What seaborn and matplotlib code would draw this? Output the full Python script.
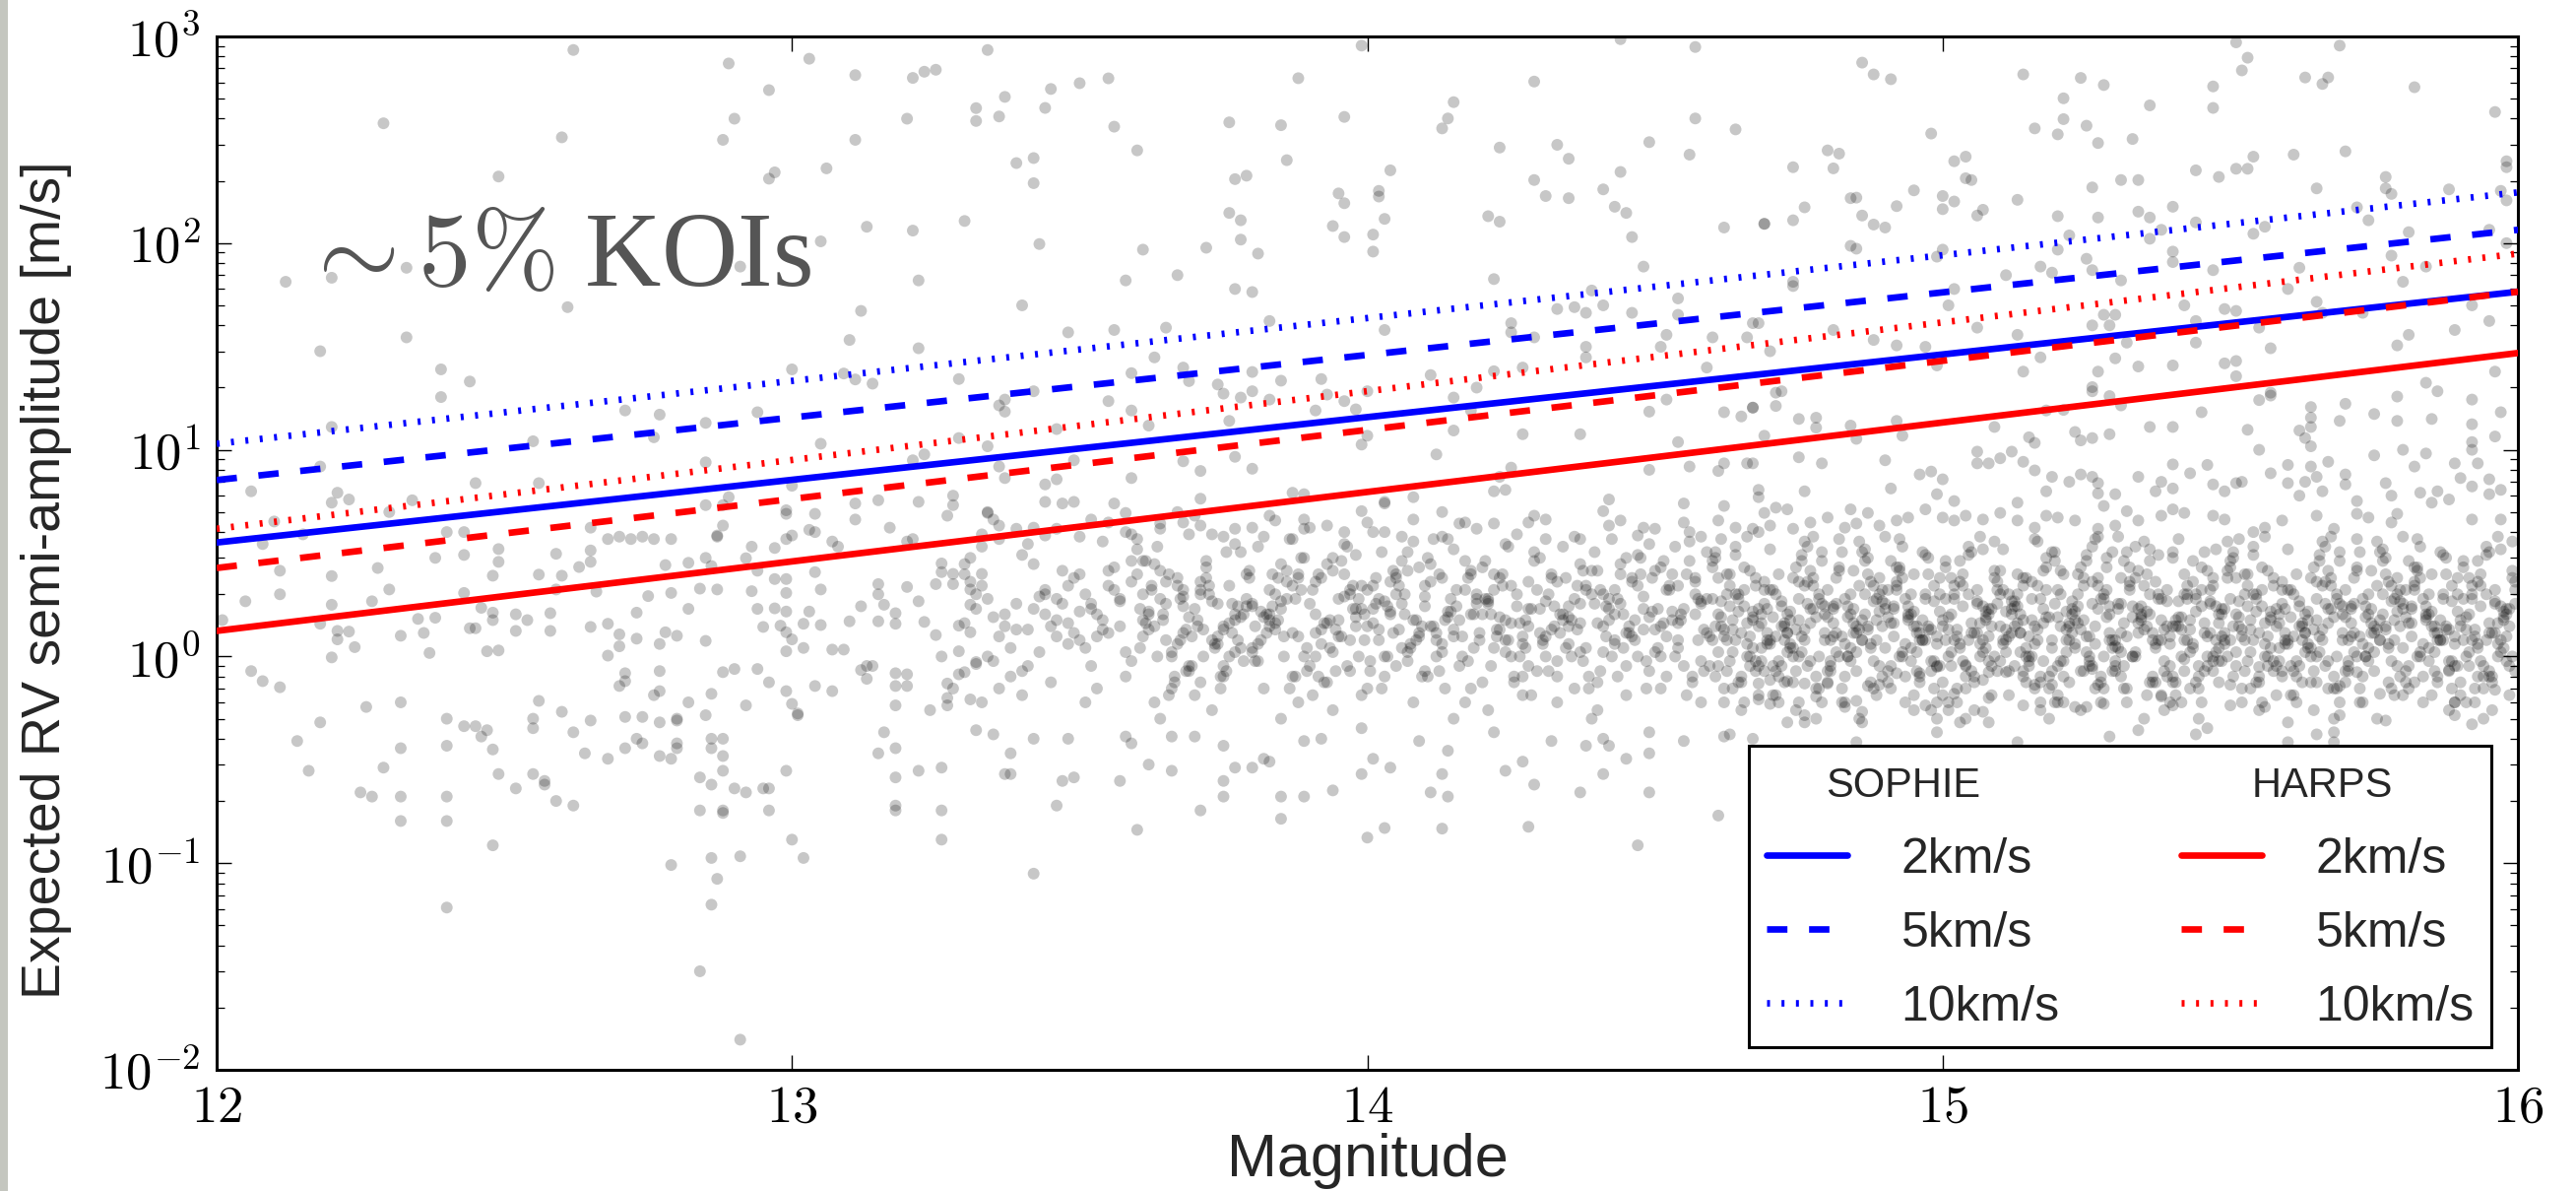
import numpy as np
import pandas as pd
import matplotlib
matplotlib.use("Agg")
import matplotlib.pyplot as plt
import seaborn as sns
from matplotlib.lines import Line2D
from matplotlib.patches import Rectangle
from matplotlib.ticker import FixedLocator, LogLocator, FuncFormatter, NullFormatter

# ===================== data =====================
line_mag = [12, 16]
sophie_2 = [3.56, 58.2]
sophie_5 = [7.14, 116]
sophie_10 = [10.7, 176]
harps_2 = [1.33, 29.4]
harps_5 = [2.68, 58.2]
harps_10 = [4.15, 89]

# bright stars, mag < 13.35 (mag, K m/s)
koi_bright = [
    (12.62, 860), (12.89, 740), (13.03, 780), (13.11, 650), (13.21, 630), (13.23, 675), (13.25, 690),
    (13.34, 860), (12.96, 550), (13.37, 510), (13.32, 450), (13.32, 390), (13.36, 410), (13.20, 400),
    (12.90, 400), (12.29, 380), (12.60, 325), (12.88, 316), (13.11, 316), (12.49, 210), (12.97, 220),
    (12.96, 205), (13.06, 230), (13.13, 120), (13.21, 115), (13.30, 128), (13.05, 102), (12.91, 77),
    (12.33, 76), (12.20, 68), (12.12, 65), (13.22, 66), (12.61, 49), (13.12, 47), (12.33, 35),
    (12.18, 30), (13.10, 34), (13.22, 31), (12.39, 24.5), (12.44, 21.4), (12.39, 18), (13.00, 24.5),
    (13.09, 23.4), (13.11, 21.9), (13.14, 20.9), (13.29, 22), (12.71, 15.5), (12.77, 14.8),
    (12.94, 15.2), (12.85, 13.5), (12.20, 12.9), (12.55, 11), (12.76, 11.5), (13.05, 10.7),
    (13.29, 11.4), (13.23, 9.5), (13.21, 8.9), (12.18, 8.3), (12.85, 8.7), (12.06, 6.3), (12.21, 6.2),
    (12.23, 5.75), (12.20, 5.55), (12.45, 6.9), (12.56, 6.9), (13.00, 6.7), (12.34, 5.7), (12.89, 5.9),
    (13.11, 5.5), (13.15, 5.7), (13.22, 5.6), (13.28, 6.0), (13.28, 5.4), (12.85, 5.4), (12.88, 5.4),
    (12.99, 5.1), (13.04, 4.9), (12.99, 4.9), (12.30, 5.0), (12.10, 4.5), (13.11, 4.6), (13.27, 4.8),
    (13.34, 5.0), (13.17, 4.2), (13.03, 4.1), (12.88, 4.3), (12.65, 4.2), (12.68, 3.7), (12.72, 3.7),
    (12.76, 3.7), (12.87, 3.8), (12.99, 3.7), (12.40, 4.0), (12.43, 4.0), (12.15, 3.9), (12.08, 3.5),
    (13.33, 3.9), (13.36, 3.7), (13.20, 3.6),
    (12.70, 3.8), (12.74, 3.8), (12.79, 3.7), (12.87, 3.85), (12.93, 3.4), (12.97, 3.35), (13.00, 3.85),
    (13.04, 4.0), (13.07, 3.6), (13.08, 3.4), (13.21, 3.7),
    (12.01, 1.50), (12.05, 1.85), (12.11, 2.0), (12.11, 2.6), (12.20, 2.45), (12.20, 1.78), (12.21, 1.33),
    (12.21, 1.21), (12.23, 1.32), (12.24, 1.11), (12.20, 0.99), (12.18, 1.44), (12.27, 1.85), (12.28, 2.68),
    (12.30, 2.11), (12.32, 1.26), (12.36, 1.30), (12.35, 1.52), (12.38, 1.54), (12.37, 1.04), (12.38, 3.0),
    (12.43, 3.1), (12.43, 2.03), (12.46, 1.72), (12.44, 1.37), (12.45, 1.37), (12.47, 1.06), (12.48, 2.46),
    (12.49, 2.87), (12.49, 3.31), (12.48, 1.50), (12.48, 1.63), (12.49, 1.07), (12.52, 1.60), (12.52, 1.33),
    (12.54, 1.50), (12.56, 2.49), (12.58, 1.62), (12.58, 1.33), (12.59, 2.11), (12.59, 3.14), (12.60, 2.46),
    (12.63, 2.71), (12.65, 2.87), (12.65, 3.26), (12.65, 1.39), (12.66, 2.06), (12.68, 1.44), (12.70, 1.28),
    (12.70, 1.12), (12.73, 1.22), (12.73, 1.63), (12.75, 1.96), (12.78, 2.77), (12.79, 2.03), (12.78, 1.31),
    (12.77, 1.15), (12.80, 1.26), (12.82, 1.70), (12.82, 2.84), (12.84, 2.13), (12.85, 3.0), (12.85, 1.19),
    (12.87, 2.11), (12.86, 2.74), (12.92, 2.99), (12.94, 2.6), (12.93, 2.07), (12.94, 1.70), (12.95, 1.39),
    (12.97, 2.37), (12.97, 1.71), (12.99, 2.37), (12.99, 2.03), (12.99, 1.65), (12.98, 1.41), (12.99, 1.31),
    (12.99, 1.06), (13.00, 1.21), (13.02, 1.10), (13.02, 1.44), (13.03, 1.65), (13.04, 2.56), (13.05, 2.11),
    (13.05, 1.42), (13.07, 1.08), (13.09, 1.08), (13.10, 1.48), (13.12, 1.75), (13.15, 2.0), (13.15, 2.24),
    (13.15, 1.48), (13.16, 1.78), (13.18, 1.62), (13.18, 1.44), (13.20, 2.17), (13.22, 1.85), (13.23, 1.47),
    (13.25, 2.24), (13.25, 1.27), (13.26, 2.56), (13.26, 2.82), (13.28, 2.51), (13.28, 2.24), (13.29, 1.06),
    (13.29, 1.41), (13.31, 1.78), (13.31, 2.11), (13.31, 1.31), (13.32, 0.94), (13.33, 2.51),
    (12.06, 0.85), (12.08, 0.76), (12.11, 0.71), (12.18, 0.48), (12.14, 0.39), (12.16, 0.28), (12.26, 0.57),
    (12.32, 0.60), (12.32, 0.36), (12.29, 0.29), (12.25, 0.22), (12.27, 0.21), (12.32, 0.21), (12.32, 0.16),
    (12.40, 0.50), (12.40, 0.37), (12.40, 0.21), (12.40, 0.16), (12.43, 0.46), (12.45, 0.46), (12.47, 0.44),
    (12.46, 0.41), (12.48, 0.355), (12.49, 0.27), (12.52, 0.23), (12.55, 0.50), (12.55, 0.45), (12.56, 0.61),
    (12.55, 0.27), (12.57, 0.25), (12.57, 0.24), (12.59, 0.20), (12.62, 0.19), (12.60, 0.54), (12.62, 0.43),
    (12.64, 0.34), (12.65, 0.49), (12.68, 0.32), (12.68, 1.01), (12.70, 0.72), (12.71, 0.83), (12.71, 0.76),
    (12.71, 0.51), (12.71, 0.36), (12.73, 0.40), (12.74, 0.51), (12.74, 0.38), (12.77, 0.33), (12.77, 0.85),
    (12.76, 0.65), (12.77, 0.68), (12.77, 0.48), (12.79, 0.32), (12.80, 0.50), (12.80, 0.49), (12.80, 0.38),
    (12.80, 0.36), (12.82, 0.60), (12.84, 0.26), (12.85, 0.52), (12.86, 0.40), (12.86, 0.24), (12.86, 0.36),
    (12.88, 0.33), (12.88, 0.28), (12.88, 0.40), (12.86, 0.66), (12.88, 0.84), (12.90, 0.87), (12.92, 0.58),
    (12.94, 0.87), (12.96, 0.75), (12.99, 0.68), (13.00, 0.59), (13.01, 0.53), (13.01, 0.52), (13.04, 0.72),
    (13.07, 0.68), (13.12, 0.86), (13.13, 0.90), (13.13, 0.78), (13.14, 0.90), (13.16, 0.43), (13.15, 0.34),
    (13.18, 0.36), (13.18, 0.26), (13.18, 0.72), (13.18, 0.83), (13.18, 0.58), (13.20, 0.82), (13.20, 0.72),
    (13.22, 0.28), (13.24, 0.55), (13.26, 0.29), (13.26, 1.0), (13.27, 0.74), (13.27, 0.63), (13.27, 0.58),
    (13.28, 0.70), (13.29, 0.82), (13.30, 0.84), (13.31, 0.62), (13.33, 0.60), (13.32, 0.44), (13.32, 0.92),
    (12.95, 0.23), (12.90, 0.23), (12.92, 0.22), (12.96, 0.23), (12.96, 0.18), (12.99, 0.28), (12.84, 0.18),
    (12.88, 0.18), (12.88, 0.175), (13.18, 0.19), (13.18, 0.18), (13.26, 0.18), (13.26, 0.13), (13.00, 0.13),
    (13.02, 0.106), (12.91, 0.108), (12.86, 0.106), (12.79, 0.098), (12.48, 0.122), (12.87, 0.084),
    (12.86, 0.063), (12.40, 0.061), (12.84, 0.030), (12.91, 0.014),
]

# faint stars, large amplitudes (mag, K m/s)
koi_high = [
    (13.45, 557), (13.44, 451), (13.50, 594), (13.55, 627), (13.56, 366), (13.60, 281), (13.39, 244),
    (13.42, 258), (13.42, 195), (13.43, 99), (13.40, 50), (13.48, 37), (13.56, 38), (13.58, 66), (13.61, 93),
    (13.63, 28), (13.65, 39), (13.67, 70), (13.68, 25), (13.69, 21.5), (13.72, 95), (13.76, 384), (13.77, 204),
    (13.79, 212), (13.76, 140), (13.78, 129), (13.78, 104), (13.81, 89), (13.77, 60), (13.80, 58), (13.83, 42),
    (13.85, 372), (13.86, 252), (13.88, 628), (13.94, 121), (13.95, 174), (13.96, 156), (13.96, 107),
    (13.96, 408), (13.99, 903), (14.01, 110), (14.01, 91), (14.02, 168), (14.02, 179), (14.03, 131),
    (14.04, 225), (14.03, 38), (14.13, 359), (14.14, 401), (14.15, 481), (14.21, 135), (14.23, 127),
    (14.22, 67), (14.23, 290), (14.29, 605), (14.29, 202), (14.31, 169), (14.33, 299), (14.35, 256),
    (14.35, 165), (14.41, 182), (14.43, 150), (14.45, 140), (14.44, 221), (14.46, 107), (14.48, 77),
    (14.49, 308), (14.56, 268), (14.57, 401), (14.57, 889), (14.44, 970), (14.64, 355), (14.62, 119),
    (14.69, 124), (14.54, 54), (14.54, 45), (14.46, 46), (14.41, 50), (14.38, 46), (14.36, 49), (14.33, 48),
    (14.39, 59), (14.25, 41), (14.25, 37), (14.29, 35), (14.52, 36), (14.60, 35), (14.66, 35), (14.67, 41),
    (14.38, 31.5), (14.38, 28), (14.51, 31.5), (14.27, 25), (14.22, 24), (14.11, 23), (14.19, 20),
    (14.18, 15.5), (14.27, 11.9), (14.37, 11.9), (14.15, 12.4), (14.12, 9.5), (13.92, 22), (13.85, 21.6),
    (13.80, 23.8), (13.80, 19.2), (13.83, 17.5), (13.78, 17.9), (13.75, 18.7), (13.74, 20.7), (13.76, 13.8),
    (13.77, 9.25), (13.80, 8.1), (13.71, 7.9), (13.68, 8.8), (13.59, 7.3), (13.59, 15.5), (13.55, 17.2),
    (13.59, 23.5), (13.62, 13.1), (13.46, 12.6), (13.49, 8.9), (13.42, 19.2), (13.37, 17.5), (13.37, 15.3),
    (13.36, 16.4), (13.44, 6.8), (13.46, 7.2), (13.44, 5.6), (13.47, 5.5), (13.49, 5.6), (13.34, 10.4),
    (13.36, 8.3), (13.37, 7.3), (14.00, 11.7), (13.99, 10.6), (13.98, 15.7), (13.96, 17.2), (13.93, 18.5),
    (13.91, 15.5), (14.00, 19.2), (14.15, 17.9), (14.49, 15.3), (14.62, 15.2), (14.65, 14.5), (14.67, 16),
    (14.69, 11.7), (14.52, 17.5), (14.59, 25), (14.66, 8.6), (14.62, 8.6), (14.56, 8.3), (14.61, 7.9),
    (14.49, 8.0), (14.54, 10.9), (14.25, 8.2), (14.23, 7.4), (14.24, 6.4), (14.22, 6.3), (14.08, 5.9),
    (14.03, 5.6), (13.71, 5.8), (13.87, 6.2), (13.89, 6.1),
    (14.86, 747), (14.88, 655), (14.91, 621), (15.14, 655), (15.24, 630), (15.28, 582), (15.21, 502),
    (15.21, 398), (15.16, 359), (15.20, 336), (15.25, 370), (15.27, 305), (15.33, 319), (15.36, 464),
    (15.47, 573), (15.47, 451), (15.51, 936), (15.53, 789), (15.52, 685), (15.63, 633), (15.67, 633),
    (15.66, 589), (15.82, 568), (15.96, 431), (15.69, 903), (14.98, 339), (14.80, 281), (14.82, 271),
    (14.74, 233), (14.81, 230), (15.02, 249), (15.04, 262), (15.04, 206), (15.05, 202), (14.95, 180),
    (15.00, 169), (15.02, 159), (14.84, 165), (14.85, 166), (14.92, 151), (14.76, 149), (14.86, 136),
    (14.69, 124), (14.74, 129), (14.88, 123), (14.90, 119), (15.00, 146), (15.06, 136), (15.07, 145),
    (15.13, 162), (15.20, 135), (15.26, 186), (15.31, 202), (15.34, 202), (15.27, 133), (15.34, 142),
    (15.36, 133), (15.40, 150), (15.44, 225), (15.48, 209), (15.51, 229), (15.53, 229), (15.54, 262),
    (15.61, 268), (15.70, 278), (15.65, 184), (15.77, 209), (15.77, 184), (15.78, 173), (15.88, 182),
    (15.98, 233), (15.98, 249), (15.74, 129), (15.72, 149), (15.81, 113), (15.95, 116), (15.98, 161),
    (15.54, 111), (15.56, 120), (15.44, 126), (15.38, 116), (15.36, 105), (15.22, 109), (15.20, 93),
    (15.25, 84), (15.26, 74), (15.17, 77), (15.19, 72), (15.11, 70), (15.00, 93), (14.99, 86), (14.84, 97),
    (14.85, 94), (14.74, 65), (14.74, 62), (15.31, 66), (15.40, 91), (15.40, 81), (15.47, 74), (15.62, 76),
    (15.78, 87), (15.80, 65), (15.84, 77), (15.98, 100), (15.97, 179), (15.02, 60), (15.01, 50), (14.81, 38),
    (14.88, 34), (14.92, 32), (14.97, 31.5), (15.06, 39), (15.13, 36), (15.17, 28), (15.26, 40), (15.29, 40),
    (15.28, 45), (15.30, 45), (15.32, 33), (15.42, 50), (15.44, 42), (15.44, 33), (15.55, 39), (15.60, 60),
    (15.65, 52), (15.66, 46), (15.73, 46), (15.81, 36), (15.79, 32), (15.89, 38), (15.95, 42), (15.92, 50),
    (15.57, 31), (15.49, 48), (15.51, 47), (14.68, 41), (14.70, 30), (14.71, 18.9), (14.72, 19.2),
    (14.71, 16.3), (14.67, 16), (14.75, 14.1), (14.78, 14.3), (14.78, 12.8), (14.85, 11.3), (14.84, 13.1),
    (14.92, 13.8), (14.93, 11.7), (14.99, 25.6), (15.14, 23.9), (15.30, 27.7), (15.34, 25.3), (15.40, 25.6),
    (15.49, 26.2), (15.51, 26.9), (15.51, 22.7), (15.27, 23.9), (15.26, 20.1), (15.26, 19.2), (15.29, 18.2),
    (15.31, 16.4), (15.18, 15.5), (15.21, 15.6), (15.09, 12.9), (15.15, 11.5), (15.16, 10.8), (15.23, 12.2),
    (15.24, 11.1), (15.26, 11.4), (15.29, 11.9), (15.36, 12.9), (15.40, 12.9), (15.45, 15.2), (15.53, 12.5),
    (15.55, 17.4), (15.57, 18.9), (15.57, 18.3), (15.64, 16.1), (15.64, 14.3), (15.70, 16.7), (15.69, 13.8),
    (15.62, 12.4), (15.64, 12.9), (15.63, 11.4), (15.64, 10.4), (15.75, 14.9), (15.79, 13.8), (15.85, 14.1),
    (15.79, 18.1), (15.84, 21.1), (15.86, 19.2), (15.92, 17.5), (15.97, 15.2), (15.96, 23.9), (15.92, 13.3),
    (15.96, 11.6), (15.92, 10.9),
]

# upper edge of the dense cloud, 4-10 m/s (mag, K m/s)
koi_edge = [
    (14.67, 8.6), (14.68, 6.4), (14.71, 5.25), (14.73, 5.15), (14.76, 6.3), (14.79, 8.6), (14.75, 9.2),
    (14.84, 5.15), (14.87, 4.95), (14.90, 8.9), (14.91, 6.5), (14.96, 7.6), (14.98, 7.85), (15.00, 7.2),
    (14.99, 6.1), (15.02, 5.65), (15.06, 9.8), (15.06, 8.6), (15.08, 8.6), (15.10, 9.1), (15.12, 9.8),
    (15.14, 8.75), (15.16, 7.95), (15.13, 5.55), (15.18, 6.3), (15.19, 7.4), (15.22, 7.0), (15.24, 7.6),
    (15.26, 7.4), (15.27, 6.15), (15.27, 6.9), (15.28, 5.35), (15.30, 6.1), (15.34, 7.4), (15.37, 6.3),
    (15.38, 7.0), (15.40, 8.5), (15.40, 6.5), (15.43, 7.7), (15.46, 8.45), (15.47, 6.8), (15.49, 6.3),
    (15.51, 6.9), (15.52, 7.0), (15.55, 10.0), (15.57, 7.7), (15.60, 8.45), (15.60, 6.9), (15.62, 6.0),
    (15.63, 7.0), (15.64, 8.3), (15.65, 7.4), (15.66, 6.3), (15.67, 8.75), (15.70, 7.6), (15.70, 6.8),
    (15.72, 5.65), (15.75, 9.4), (15.77, 6.9), (15.78, 6.0), (15.80, 10.0), (15.82, 8.3), (15.84, 9.6),
    (15.83, 6.2), (15.85, 5.55), (15.86, 6.3), (15.89, 8.6), (15.90, 7.3), (15.92, 6.65), (15.92, 10.0),
    (15.93, 8.6), (15.95, 7.2), (15.95, 6.1), (15.97, 6.4), (15.97, 4.6), (15.92, 4.6), (15.88, 5.75),
    (15.79, 4.9), (15.78, 4.45), (15.74, 4.7), (15.72, 4.9), (15.68, 4.15), (15.65, 4.8), (15.59, 4.55),
    (15.56, 4.2), (15.54, 4.0), (15.49, 4.6), (15.47, 4.8), (15.42, 4.95), (15.40, 5.15), (15.38, 4.8),
    (15.34, 4.55), (15.32, 5.05), (15.30, 4.3), (15.27, 4.15), (15.23, 4.55), (15.20, 4.7), (15.18, 4.8),
    (15.16, 4.2), (15.13, 4.55), (15.10, 4.95), (15.07, 4.6), (15.04, 4.8), (15.02, 4.55), (15.00, 4.7),
    (14.97, 5.15), (14.94, 4.7), (14.92, 4.55), (14.89, 4.3), (14.85, 4.4), (14.83, 4.2), (14.80, 4.7),
    (14.77, 4.45), (14.74, 4.15), (14.70, 4.3), (14.68, 4.0),
    (13.34, 4.95), (13.36, 4.3), (13.39, 4.15), (13.44, 3.85), (13.46, 4.15), (13.50, 3.8), (13.52, 4.6),
    (13.55, 4.45), (13.58, 4.95), (13.59, 3.9), (13.64, 4.15), (13.68, 4.45), (13.69, 3.9), (13.71, 4.3),
    (13.75, 3.8), (13.77, 4.15), (13.80, 4.2), (13.83, 4.8), (13.84, 4.55), (13.87, 3.7), (13.89, 4.15),
    (13.93, 4.3), (13.96, 4.0), (13.99, 5.05), (14.00, 4.45), (14.03, 4.0), (14.06, 3.8), (14.08, 4.6),
    (14.13, 3.8), (14.17, 4.45), (14.19, 4.15), (14.22, 4.4), (14.28, 4.45), (14.31, 3.7), (14.37, 3.7),
    (14.41, 5.05), (14.42, 5.75), (14.42, 4.3), (14.44, 4.55), (14.47, 3.85), (14.50, 4.15), (14.55, 4.45),
    (14.58, 3.8), (14.61, 4.55), (14.62, 5.35), (14.64, 4.2), (14.67, 4.15), (14.68, 5.9), (14.69, 4.95),
]

# lower tail of the cloud, below ~0.9 m/s (mag, K m/s)
koi_low = [
    (13.37, 0.27), (13.38, 0.27), (13.38, 0.34), (13.46, 0.19), (13.47, 0.25), (13.49, 0.26), (13.57, 0.25),
    (13.60, 0.145), (13.62, 0.30), (13.66, 0.28), (13.71, 0.18), (13.75, 0.21), (13.75, 0.25), (13.77, 0.29),
    (13.80, 0.29), (13.82, 0.32), (13.83, 0.31), (13.85, 0.21), (13.85, 0.164), (13.89, 0.21), (13.94, 0.225),
    (13.99, 0.27), (14.00, 0.133), (14.01, 0.32), (14.03, 0.148), (14.04, 0.29), (14.11, 0.22), (14.13, 0.27),
    (14.13, 0.147), (14.14, 0.21), (14.14, 0.35), (14.24, 0.28), (14.27, 0.31), (14.28, 0.15), (14.29, 0.24),
    (14.37, 0.22), (14.41, 0.27), (14.45, 0.32), (14.47, 0.122), (14.49, 0.22), (14.49, 0.34), (14.61, 0.17),
    (13.42, 0.089), (14.38, 0.37), (14.55, 0.39), (14.42, 0.37), (14.62, 0.41), (14.63, 0.42), (14.67, 0.40),
    (13.35, 0.42), (13.42, 0.40), (13.48, 0.40), (13.58, 0.41), (13.59, 0.38), (13.66, 0.41), (13.70, 0.41),
    (13.75, 0.37), (13.89, 0.39), (13.92, 0.40), (13.99, 0.45), (14.09, 0.39), (14.22, 0.43), (14.32, 0.39),
    (14.41, 0.40), (14.49, 0.43),
    (14.68, 0.62), (14.70, 0.59), (14.73, 0.48), (14.76, 0.48), (14.76, 0.52), (14.75, 0.60), (14.78, 0.64),
    (14.83, 0.57), (14.85, 0.61), (14.86, 0.54), (14.86, 0.48), (14.85, 0.385), (14.87, 0.72), (14.89, 0.73),
    (14.95, 0.55), (14.97, 0.58), (14.99, 0.50), (14.99, 0.43), (15.01, 0.55), (15.02, 0.66), (15.03, 0.48),
    (15.07, 0.54), (15.08, 0.48), (15.08, 0.63), (15.14, 0.58), (15.17, 0.55), (15.20, 0.60), (15.23, 0.57),
    (15.25, 0.57), (15.28, 0.59), (15.29, 0.41), (15.34, 0.44), (15.38, 0.64), (15.40, 0.58), (15.44, 0.42),
    (15.46, 0.45), (15.50, 0.58), (15.56, 0.57), (15.60, 0.48), (15.60, 0.385), (15.65, 0.42), (15.68, 0.385),
    (15.68, 0.43), (15.69, 0.52), (15.76, 0.66), (15.77, 0.49), (15.80, 0.65), (15.89, 0.60), (15.89, 0.52),
    (15.92, 0.47), (15.96, 0.69), (15.13, 0.385), (15.95, 0.80), (15.93, 0.80), (15.88, 0.86), (15.82, 0.75),
    (15.72, 0.84), (15.69, 0.72), (15.67, 0.70), (15.65, 0.75), (15.59, 0.80), (15.55, 0.89), (15.50, 0.73),
    (15.48, 0.75), (15.47, 1.0), (15.42, 0.97), (15.40, 0.75), (15.36, 0.75), (15.31, 0.80), (15.30, 1.12),
    (15.27, 0.73), (15.26, 0.87), (15.19, 0.73), (15.16, 0.73), (15.14, 0.80), (15.11, 0.84), (15.08, 0.84),
    (15.07, 0.77), (15.04, 0.91), (14.99, 0.89), (14.96, 0.83), (14.92, 0.83), (14.80, 0.74), (14.76, 0.74),
    (14.73, 0.76), (14.70, 0.77), (14.68, 0.74),
]

# dense cloud, mag 13.3 - 16, first layer (estimated strip by strip, 0.1 mag wide)
band_mag = [
    13.37, 13.31, 13.39, 13.34, 13.30, 13.35, 13.38, 13.32, 13.36, 13.33, 13.32, 13.38, 13.30, 13.36, 13.34, 13.39, 13.31, 13.37, 13.33, 13.35, 13.35, 13.30,
    13.44, 13.49, 13.42, 13.47, 13.41, 13.46, 13.40, 13.48, 13.43, 13.45, 13.49, 13.45, 13.47, 13.41, 13.43, 13.48, 13.44, 13.40, 13.42, 13.46, 13.46, 13.42, 13.48, 13.40, 13.44, 13.41,
    13.53, 13.56, 13.50, 13.59, 13.55, 13.52, 13.57, 13.54, 13.58, 13.51, 13.55, 13.50, 13.58, 13.52, 13.56, 13.54, 13.59, 13.53, 13.57, 13.51, 13.59, 13.54, 13.51, 13.56, 13.50, 13.58, 13.53, 13.57, 13.52, 13.55,
    13.67, 13.61, 13.69, 13.64, 13.60, 13.65, 13.68, 13.62, 13.66, 13.63, 13.62, 13.68, 13.60, 13.66, 13.64, 13.69, 13.61, 13.67, 13.63, 13.65, 13.65, 13.60, 13.63, 13.69, 13.67, 13.62, 13.66, 13.61, 13.68, 13.64, 13.68, 13.64, 13.61, 13.67,
    13.74, 13.79, 13.72, 13.77, 13.71, 13.76, 13.70, 13.78, 13.73, 13.75, 13.79, 13.75, 13.77, 13.71, 13.73, 13.78, 13.74, 13.70, 13.72, 13.76, 13.76, 13.72, 13.78, 13.70, 13.74, 13.71, 13.79, 13.73, 13.75, 13.77, 13.71, 13.77, 13.73, 13.75,
    13.83, 13.86, 13.80, 13.89, 13.85, 13.82, 13.87, 13.84, 13.88, 13.81, 13.85, 13.80, 13.88, 13.82, 13.86, 13.84, 13.89, 13.83, 13.87, 13.81, 13.89, 13.84, 13.81, 13.86, 13.80, 13.88, 13.83, 13.87, 13.82, 13.85, 13.80, 13.88, 13.85, 13.83,
    13.97, 13.91, 13.99, 13.94, 13.90, 13.95, 13.98, 13.92, 13.96, 13.93, 13.92, 13.98, 13.90, 13.96, 13.94, 13.99, 13.91, 13.97, 13.93, 13.95, 13.95, 13.90, 13.93, 13.99, 13.97, 13.92, 13.96, 13.91, 13.98, 13.94, 13.98, 13.94, 13.91, 13.97,
    14.04, 14.09, 14.02, 14.07, 14.01, 14.06, 14.00, 14.08, 14.03, 14.05, 14.09, 14.05, 14.07, 14.01, 14.03, 14.08, 14.04, 14.00, 14.02, 14.06, 14.06, 14.02, 14.08, 14.00, 14.04, 14.01, 14.09, 14.03, 14.05, 14.07, 14.01, 14.07, 14.03, 14.05,
    14.13, 14.16, 14.10, 14.19, 14.15, 14.12, 14.17, 14.14, 14.18, 14.11, 14.15, 14.10, 14.18, 14.12, 14.16, 14.14, 14.19, 14.13, 14.17, 14.11, 14.19, 14.14, 14.11, 14.16, 14.10, 14.18, 14.13, 14.17, 14.12, 14.15, 14.10, 14.18, 14.15, 14.13,
    14.27, 14.21, 14.29, 14.24, 14.20, 14.25, 14.28, 14.22, 14.26, 14.23, 14.22, 14.28, 14.20, 14.26, 14.24, 14.29, 14.21, 14.27, 14.23, 14.25, 14.25, 14.20, 14.23, 14.29, 14.27, 14.22, 14.26, 14.21, 14.28, 14.24, 14.28, 14.24, 14.21, 14.27,
    14.34, 14.39, 14.32, 14.37, 14.31, 14.36, 14.30, 14.38, 14.33, 14.35, 14.39, 14.35, 14.37, 14.31, 14.33, 14.38, 14.34, 14.30, 14.32, 14.36, 14.36, 14.32, 14.38, 14.30, 14.34, 14.31, 14.39, 14.33, 14.35, 14.37, 14.31, 14.37, 14.33, 14.35,
    14.43, 14.46, 14.40, 14.49, 14.45, 14.42, 14.47, 14.44, 14.48, 14.41, 14.45, 14.40, 14.48, 14.42, 14.46, 14.44, 14.49, 14.43, 14.47, 14.41, 14.49, 14.44, 14.41, 14.46, 14.40, 14.48, 14.43, 14.47, 14.42, 14.45, 14.40, 14.48, 14.45, 14.43,
    14.57, 14.51, 14.59, 14.54, 14.50, 14.55, 14.58, 14.52, 14.56, 14.53, 14.52, 14.58, 14.50, 14.56, 14.54, 14.59, 14.51, 14.57, 14.53, 14.55, 14.55, 14.50, 14.53, 14.59, 14.57, 14.52, 14.56, 14.51, 14.58, 14.54, 14.58, 14.54, 14.51, 14.57,
    14.67, 14.61, 14.69, 14.64, 14.60, 14.65, 14.68, 14.62, 14.66, 14.63, 14.62, 14.68, 14.60, 14.66, 14.64, 14.69, 14.61, 14.67, 14.63, 14.65, 14.65, 14.60, 14.63, 14.69, 14.67, 14.62, 14.66, 14.61, 14.68, 14.64, 14.68, 14.64, 14.61, 14.67, 14.62, 14.66, 14.60, 14.69, 14.65, 14.63,
    14.74, 14.79, 14.72, 14.77, 14.71, 14.76, 14.70, 14.78, 14.73, 14.75, 14.79, 14.75, 14.77, 14.71, 14.73, 14.78, 14.74, 14.70, 14.72, 14.76, 14.76, 14.72, 14.78, 14.70, 14.74, 14.71, 14.79, 14.73, 14.75, 14.77, 14.71, 14.77, 14.73, 14.75, 14.79, 14.70, 14.76, 14.72, 14.78, 14.74,
    14.83, 14.86, 14.80, 14.89, 14.85, 14.82, 14.87, 14.84, 14.88, 14.81, 14.85, 14.80, 14.88, 14.82, 14.86, 14.84, 14.89, 14.83, 14.87, 14.81, 14.89, 14.84, 14.81, 14.86, 14.80, 14.88, 14.83, 14.87, 14.82, 14.85, 14.80, 14.88, 14.85, 14.83, 14.81, 14.87, 14.82, 14.86, 14.84, 14.89,
    14.94, 14.99, 14.92, 14.97, 14.91, 14.96, 14.90, 14.98, 14.93, 14.95, 14.99, 14.95, 14.97, 14.91, 14.93, 14.98, 14.94, 14.90, 14.92, 14.96, 14.96, 14.92, 14.98, 14.90, 14.94, 14.91, 14.99, 14.93, 14.95, 14.97, 14.91, 14.97, 14.93, 14.95, 14.99, 14.90, 14.96, 14.92, 14.98, 14.94,
    15.03, 15.06, 15.00, 15.09, 15.05, 15.02, 15.07, 15.04, 15.08, 15.01, 15.05, 15.00, 15.08, 15.02, 15.06, 15.04, 15.09, 15.03, 15.07, 15.01, 15.09, 15.04, 15.01, 15.06, 15.00, 15.08, 15.03, 15.07, 15.02, 15.05, 15.00, 15.08, 15.05, 15.03, 15.01, 15.07, 15.02, 15.06, 15.04, 15.09,
    15.17, 15.11, 15.19, 15.14, 15.10, 15.15, 15.18, 15.12, 15.16, 15.13, 15.12, 15.18, 15.10, 15.16, 15.14, 15.19, 15.11, 15.17, 15.13, 15.15, 15.15, 15.10, 15.13, 15.19, 15.17, 15.12, 15.16, 15.11, 15.18, 15.14, 15.18, 15.14, 15.11, 15.17, 15.12, 15.16, 15.10, 15.19, 15.15, 15.13,
    15.23, 15.26, 15.20, 15.29, 15.25, 15.22, 15.27, 15.24, 15.28, 15.21, 15.25, 15.20, 15.28, 15.22, 15.26, 15.24, 15.29, 15.23, 15.27, 15.21, 15.29, 15.24, 15.21, 15.26, 15.20, 15.28, 15.23, 15.27, 15.22, 15.25, 15.20, 15.28, 15.25, 15.23, 15.21, 15.27, 15.22, 15.26, 15.24, 15.29,
    15.37, 15.31, 15.39, 15.34, 15.30, 15.35, 15.38, 15.32, 15.36, 15.33, 15.32, 15.38, 15.30, 15.36, 15.34, 15.39, 15.31, 15.37, 15.33, 15.35, 15.35, 15.30, 15.33, 15.39, 15.37, 15.32, 15.36, 15.31, 15.38, 15.34, 15.38, 15.34, 15.31, 15.37, 15.32, 15.36, 15.30, 15.39, 15.35, 15.33,
    15.44, 15.49, 15.42, 15.47, 15.41, 15.46, 15.40, 15.48, 15.43, 15.45, 15.49, 15.45, 15.47, 15.41, 15.43, 15.48, 15.44, 15.40, 15.42, 15.46, 15.46, 15.42, 15.48, 15.40, 15.44, 15.41, 15.49, 15.43, 15.45, 15.47, 15.41, 15.47, 15.43, 15.45, 15.49, 15.40, 15.46, 15.42, 15.48, 15.44,
    15.57, 15.51, 15.59, 15.54, 15.50, 15.55, 15.58, 15.52, 15.56, 15.53, 15.52, 15.58, 15.50, 15.56, 15.54, 15.59, 15.51, 15.57, 15.53, 15.55, 15.55, 15.50, 15.53, 15.59, 15.57, 15.52, 15.56, 15.51, 15.58, 15.54, 15.58, 15.54, 15.51, 15.57, 15.52, 15.56, 15.50, 15.59, 15.55, 15.53,
    15.64, 15.69, 15.62, 15.67, 15.61, 15.66, 15.60, 15.68, 15.63, 15.65, 15.69, 15.65, 15.67, 15.61, 15.63, 15.68, 15.64, 15.60, 15.62, 15.66, 15.66, 15.62, 15.68, 15.60, 15.64, 15.61, 15.69, 15.63, 15.65, 15.67, 15.61, 15.67, 15.63, 15.65, 15.69, 15.60, 15.66, 15.62, 15.68, 15.64,
    15.73, 15.76, 15.70, 15.79, 15.75, 15.72, 15.77, 15.74, 15.78, 15.71, 15.75, 15.70, 15.78, 15.72, 15.76, 15.74, 15.79, 15.73, 15.77, 15.71, 15.79, 15.74, 15.71, 15.76, 15.70, 15.78, 15.73, 15.77, 15.72, 15.75, 15.70, 15.78, 15.75, 15.73, 15.71, 15.77, 15.72, 15.76, 15.74, 15.79,
    15.84, 15.89, 15.82, 15.87, 15.81, 15.86, 15.80, 15.88, 15.83, 15.85, 15.89, 15.85, 15.87, 15.81, 15.83, 15.88, 15.84, 15.80, 15.82, 15.86, 15.86, 15.82, 15.88, 15.80, 15.84, 15.81, 15.89, 15.83, 15.85, 15.87, 15.81, 15.87, 15.83, 15.85, 15.89, 15.80, 15.86, 15.82, 15.88, 15.84,
    15.93, 15.96, 15.90, 15.99, 15.95, 15.92, 15.97, 15.94, 15.98, 15.91, 15.95, 15.90, 15.98, 15.92, 15.96, 15.94, 15.99, 15.93, 15.97, 15.91, 15.99, 15.94, 15.91, 15.96, 15.90, 15.98, 15.93, 15.97, 15.92, 15.95, 15.90, 15.98, 15.95, 15.93, 15.91, 15.97, 15.92, 15.96, 15.94, 15.99,
]
band_k = [
    1.4, 2.3, 1.8, 1.0, 2.8, 1.55, 0.8, 2.0, 1.25, 3.4, 1.7, 1.1, 2.5, 0.7, 1.9, 1.35, 3.0, 1.6, 2.2, 0.95, 4.6, 1.45,
    2.1, 1.3, 1.7, 2.6, 0.9, 1.5, 3.1, 1.15, 1.95, 0.75, 2.4, 1.4, 1.8, 3.5, 1.05, 2.2, 1.6, 0.85, 2.8, 1.25, 1.9, 4.2, 1.45, 0.65, 2.0, 1.35,
    1.6, 2.7, 1.2, 0.95, 2.2, 1.8, 1.4, 3.6, 0.8, 2.0, 1.3, 2.5, 1.05, 1.7, 5.5, 1.5, 2.3, 0.7, 1.9, 1.1, 2.9, 1.35, 0.6, 2.1, 1.65, 4.0, 1.25, 1.85, 0.9, 2.6,
    2.4, 1.5, 0.85, 1.9, 3.3, 1.2, 2.1, 1.65, 0.7, 2.8, 1.35, 1.75, 2.5, 1.0, 4.4, 1.55, 2.0, 1.15, 0.6, 2.3, 1.8, 3.7, 1.4, 0.9, 2.2, 1.6, 1.05, 2.9, 1.3, 0.5, 1.95, 2.6, 1.25, 5.0,
    1.25, 1.9, 2.9, 1.5, 0.75, 2.2, 1.7, 1.1, 3.9, 1.35, 2.5, 0.9, 1.6, 2.0, 1.2, 3.2, 1.8, 0.65, 2.4, 1.45, 1.0, 2.7, 1.55, 4.8, 1.15, 2.1, 1.75, 0.55, 1.4, 3.5, 2.3, 1.05, 1.85, 0.8,
    1.4, 2.3, 1.8, 1.0, 2.8, 1.55, 0.8, 2.0, 1.25, 3.4, 1.7, 1.1, 2.5, 0.7, 1.9, 1.35, 3.0, 1.6, 2.2, 0.95, 4.6, 1.45, 1.15, 2.6, 1.75, 0.6, 2.1, 1.3, 3.8, 1.85, 1.05, 2.4, 0.5, 1.5,
    2.1, 1.3, 1.7, 2.6, 0.9, 1.5, 3.1, 1.15, 1.95, 0.75, 2.4, 1.4, 1.8, 3.5, 1.05, 2.2, 1.6, 0.85, 2.8, 1.25, 1.9, 4.2, 1.45, 0.65, 2.0, 1.35, 2.5, 1.0, 1.7, 3.0, 1.55, 0.55, 2.3, 1.2,
    1.6, 2.7, 1.2, 0.95, 2.2, 1.8, 1.4, 3.6, 0.8, 2.0, 1.3, 2.5, 1.05, 1.7, 5.5, 1.5, 2.3, 0.7, 1.9, 1.1, 2.9, 1.35, 0.6, 2.1, 1.65, 4.0, 1.25, 1.85, 0.9, 2.6, 1.45, 3.2, 1.0, 2.4,
    2.4, 1.5, 0.85, 1.9, 3.3, 1.2, 2.1, 1.65, 0.7, 2.8, 1.35, 1.75, 2.5, 1.0, 4.4, 1.55, 2.0, 1.15, 0.6, 2.3, 1.8, 3.7, 1.4, 0.9, 2.2, 1.6, 1.05, 2.9, 1.3, 0.5, 1.95, 2.6, 1.25, 5.0,
    1.25, 1.9, 2.9, 1.5, 0.75, 2.2, 1.7, 1.1, 3.9, 1.35, 2.5, 0.9, 1.6, 2.0, 1.2, 3.2, 1.8, 0.65, 2.4, 1.45, 1.0, 2.7, 1.55, 4.8, 1.15, 2.1, 1.75, 0.55, 1.4, 3.5, 2.3, 1.05, 1.85, 0.8,
    1.5, 0.5, 2.4, 1.05, 1.85, 3.8, 1.3, 2.1, 0.6, 1.75, 2.6, 1.15, 1.45, 4.6, 0.95, 2.2, 1.6, 3.0, 1.35, 1.9, 0.7, 2.5, 1.1, 1.7, 3.4, 1.25, 2.0, 0.8, 1.55, 2.8, 1.0, 1.8, 2.3, 1.4,
    1.2, 2.3, 0.55, 1.55, 3.0, 1.7, 1.0, 2.5, 1.35, 2.0, 0.65, 1.45, 4.2, 1.9, 1.25, 2.8, 0.85, 1.6, 2.2, 1.05, 3.5, 1.8, 1.4, 2.4, 0.75, 1.95, 1.15, 3.1, 1.5, 0.9, 2.6, 1.7, 1.3, 2.1,
    2.4, 1.0, 3.2, 1.45, 2.6, 0.9, 1.85, 1.25, 4.0, 1.65, 2.1, 0.6, 1.35, 2.9, 1.1, 1.9, 0.7, 2.3, 1.5, 5.5, 1.7, 1.05, 2.5, 1.3, 2.0, 0.8, 3.6, 1.4, 1.8, 2.2, 0.95, 1.2, 2.7, 1.6,
    1.5, 0.9, 2.1, 1.2, 2.9, 0.75, 1.7, 1.35, 1.0, 2.5, 1.25, 0.65, 1.9, 1.45, 3.4, 0.85, 1.6, 1.1, 2.2, 0.8, 1.3, 2.7, 0.95, 1.8, 1.55, 0.7, 1.15, 2.4, 1.4, 3.1, 0.9, 2.0, 1.05, 1.65, 0.6, 3.8, 1.2, 2.3, 0.55, 1.75,
    1.1, 1.8, 1.4, 2.6, 0.85, 2.2, 1.2, 0.7, 1.6, 1.0, 3.2, 1.5, 0.95, 2.0, 1.3, 0.8, 2.4, 1.15, 1.75, 1.35, 3.6, 0.9, 1.55, 2.1, 0.75, 1.25, 2.9, 1.05, 1.9, 1.45, 0.65, 1.7, 1.3, 2.3, 0.6, 3.3, 1.2, 1.85, 0.5, 1.0,
    1.9, 1.2, 0.85, 2.4, 1.4, 1.0, 3.0, 1.6, 0.7, 1.75, 1.3, 2.1, 0.95, 3.7, 1.5, 1.1, 1.65, 0.8, 2.5, 1.25, 0.9, 2.0, 1.45, 3.2, 0.75, 1.85, 1.15, 1.35, 2.7, 0.85, 1.55, 2.2, 1.05, 0.6, 1.7, 1.4, 2.6, 1.2, 0.95, 2.0,
    1.5, 0.9, 2.1, 1.2, 2.9, 0.75, 1.7, 1.35, 1.0, 2.5, 1.25, 0.65, 1.9, 1.45, 3.4, 0.85, 1.6, 1.1, 2.2, 0.8, 1.3, 2.7, 0.95, 1.8, 1.55, 0.7, 1.15, 2.4, 1.4, 3.1, 0.9, 2.0, 1.05, 1.65, 0.6, 3.8, 1.2, 2.3, 0.55, 1.75,
    1.1, 1.8, 1.4, 2.6, 0.85, 2.2, 1.2, 0.7, 1.6, 1.0, 3.2, 1.5, 0.95, 2.0, 1.3, 0.8, 2.4, 1.15, 1.75, 1.35, 3.6, 0.9, 1.55, 2.1, 0.75, 1.25, 2.9, 1.05, 1.9, 1.45, 0.65, 1.7, 1.3, 2.3, 0.6, 3.3, 1.2, 1.85, 0.5, 1.0,
    1.9, 1.2, 0.85, 2.4, 1.4, 1.0, 3.0, 1.6, 0.7, 1.75, 1.3, 2.1, 0.95, 3.7, 1.5, 1.1, 1.65, 0.8, 2.5, 1.25, 0.9, 2.0, 1.45, 3.2, 0.75, 1.85, 1.15, 1.35, 2.7, 0.85, 1.55, 2.2, 1.05, 0.6, 1.7, 1.4, 2.6, 1.2, 0.95, 2.0,
    1.5, 0.9, 2.1, 1.2, 2.9, 0.75, 1.7, 1.35, 1.0, 2.5, 1.25, 0.65, 1.9, 1.45, 3.4, 0.85, 1.6, 1.1, 2.2, 0.8, 1.3, 2.7, 0.95, 1.8, 1.55, 0.7, 1.15, 2.4, 1.4, 3.1, 0.9, 2.0, 1.05, 1.65, 0.6, 3.8, 1.2, 2.3, 0.55, 1.75,
    1.1, 1.8, 1.4, 2.6, 0.85, 2.2, 1.2, 0.7, 1.6, 1.0, 3.2, 1.5, 0.95, 2.0, 1.3, 0.8, 2.4, 1.15, 1.75, 1.35, 3.6, 0.9, 1.55, 2.1, 0.75, 1.25, 2.9, 1.05, 1.9, 1.45, 0.65, 1.7, 1.3, 2.3, 0.6, 3.3, 1.2, 1.85, 0.5, 1.0,
    1.9, 1.2, 0.85, 2.4, 1.4, 1.0, 3.0, 1.6, 0.7, 1.75, 1.3, 2.1, 0.95, 3.7, 1.5, 1.1, 1.65, 0.8, 2.5, 1.25, 0.9, 2.0, 1.45, 3.2, 0.75, 1.85, 1.15, 1.35, 2.7, 0.85, 1.55, 2.2, 1.05, 0.6, 1.7, 1.4, 2.6, 1.2, 0.95, 2.0,
    1.5, 0.9, 2.1, 1.2, 2.9, 0.75, 1.7, 1.35, 1.0, 2.5, 1.25, 0.65, 1.9, 1.45, 3.4, 0.85, 1.6, 1.1, 2.2, 0.8, 1.3, 2.7, 0.95, 1.8, 1.55, 0.7, 1.15, 2.4, 1.4, 3.1, 0.9, 2.0, 1.05, 1.65, 0.6, 3.8, 1.2, 2.3, 0.55, 1.75,
    1.1, 1.8, 1.4, 2.6, 0.85, 2.2, 1.2, 0.7, 1.6, 1.0, 3.2, 1.5, 0.95, 2.0, 1.3, 0.8, 2.4, 1.15, 1.75, 1.35, 3.6, 0.9, 1.55, 2.1, 0.75, 1.25, 2.9, 1.05, 1.9, 1.45, 0.65, 1.7, 1.3, 2.3, 0.6, 3.3, 1.2, 1.85, 0.5, 1.0,
    1.9, 1.2, 0.85, 2.4, 1.4, 1.0, 3.0, 1.6, 0.7, 1.75, 1.3, 2.1, 0.95, 3.7, 1.5, 1.1, 1.65, 0.8, 2.5, 1.25, 0.9, 2.0, 1.45, 3.2, 0.75, 1.85, 1.15, 1.35, 2.7, 0.85, 1.55, 2.2, 1.05, 0.6, 1.7, 1.4, 2.6, 1.2, 0.95, 2.0,
    1.5, 0.9, 2.1, 1.2, 2.9, 0.75, 1.7, 1.35, 1.0, 2.5, 1.25, 0.65, 1.9, 1.45, 3.4, 0.85, 1.6, 1.1, 2.2, 0.8, 1.3, 2.7, 0.95, 1.8, 1.55, 0.7, 1.15, 2.4, 1.4, 3.1, 0.9, 2.0, 1.05, 1.65, 0.6, 3.8, 1.2, 2.3, 0.55, 1.75,
    1.1, 1.8, 1.4, 2.6, 0.85, 2.2, 1.2, 0.7, 1.6, 1.0, 3.2, 1.5, 0.95, 2.0, 1.3, 0.8, 2.4, 1.15, 1.75, 1.35, 3.6, 0.9, 1.55, 2.1, 0.75, 1.25, 2.9, 1.05, 1.9, 1.45, 0.65, 1.7, 1.3, 2.3, 0.6, 3.3, 1.2, 1.85, 0.5, 1.0,
]

# dense cloud, second layer (mag 13.6 - 16)
band2_mag = [
    13.645, 13.695, 13.625, 13.675, 13.615, 13.665, 13.605, 13.685, 13.635, 13.655, 13.695, 13.655, 13.675, 13.615, 13.635, 13.685, 13.645, 13.605, 13.625, 13.665,
    13.735, 13.765, 13.705, 13.795, 13.755, 13.725, 13.775, 13.745, 13.785, 13.715, 13.755, 13.705, 13.785, 13.725, 13.765, 13.745, 13.795, 13.735, 13.775, 13.715,
    13.875, 13.815, 13.895, 13.845, 13.805, 13.855, 13.885, 13.825, 13.865, 13.835, 13.825, 13.885, 13.805, 13.865, 13.845, 13.895, 13.815, 13.875, 13.835, 13.855,
    13.935, 13.965, 13.905, 13.995, 13.955, 13.925, 13.975, 13.945, 13.985, 13.915, 13.955, 13.905, 13.985, 13.925, 13.965, 13.945, 13.995, 13.935, 13.975, 13.915,
    14.075, 14.015, 14.095, 14.045, 14.005, 14.055, 14.085, 14.025, 14.065, 14.035, 14.025, 14.085, 14.005, 14.065, 14.045, 14.095, 14.015, 14.075, 14.035, 14.055,
    14.145, 14.195, 14.125, 14.175, 14.115, 14.165, 14.105, 14.185, 14.135, 14.155, 14.195, 14.155, 14.175, 14.115, 14.135, 14.185, 14.145, 14.105, 14.125, 14.165,
    14.275, 14.215, 14.295, 14.245, 14.205, 14.255, 14.285, 14.225, 14.265, 14.235, 14.225, 14.285, 14.205, 14.265, 14.245, 14.295, 14.215, 14.275, 14.235, 14.255,
    14.345, 14.395, 14.325, 14.375, 14.315, 14.365, 14.305, 14.385, 14.335, 14.355, 14.395, 14.355, 14.375, 14.315, 14.335, 14.385, 14.345, 14.305, 14.325, 14.365,
    14.435, 14.465, 14.405, 14.495, 14.455, 14.425, 14.475, 14.445, 14.485, 14.415, 14.455, 14.405, 14.485, 14.425, 14.465, 14.445, 14.495, 14.435, 14.475, 14.415,
    14.545, 14.595, 14.525, 14.575, 14.515, 14.565, 14.505, 14.585, 14.535, 14.555, 14.595, 14.555, 14.575, 14.515, 14.535, 14.585, 14.545, 14.505, 14.525, 14.565,
    14.645, 14.695, 14.625, 14.675, 14.615, 14.665, 14.605, 14.685, 14.635, 14.655, 14.695, 14.655, 14.675, 14.615, 14.635, 14.685, 14.645, 14.605, 14.625, 14.665, 14.665, 14.625, 14.685, 14.605, 14.645, 14.615, 14.695, 14.635, 14.655, 14.675, 14.615, 14.675, 14.635, 14.655, 14.695, 14.605, 14.665, 14.625, 14.685, 14.645,
    14.735, 14.765, 14.705, 14.795, 14.755, 14.725, 14.775, 14.745, 14.785, 14.715, 14.755, 14.705, 14.785, 14.725, 14.765, 14.745, 14.795, 14.735, 14.775, 14.715, 14.795, 14.745, 14.715, 14.765, 14.705, 14.785, 14.735, 14.775, 14.725, 14.755, 14.705, 14.785, 14.755, 14.735, 14.715, 14.775, 14.725, 14.765, 14.745, 14.795,
    14.875, 14.815, 14.895, 14.845, 14.805, 14.855, 14.885, 14.825, 14.865, 14.835, 14.825, 14.885, 14.805, 14.865, 14.845, 14.895, 14.815, 14.875, 14.835, 14.855, 14.855, 14.805, 14.835, 14.895, 14.875, 14.825, 14.865, 14.815, 14.885, 14.845, 14.885, 14.845, 14.815, 14.875, 14.825, 14.865, 14.805, 14.895, 14.855, 14.835,
    14.935, 14.965, 14.905, 14.995, 14.955, 14.925, 14.975, 14.945, 14.985, 14.915, 14.955, 14.905, 14.985, 14.925, 14.965, 14.945, 14.995, 14.935, 14.975, 14.915, 14.995, 14.945, 14.915, 14.965, 14.905, 14.985, 14.935, 14.975, 14.925, 14.955, 14.905, 14.985, 14.955, 14.935, 14.915, 14.975, 14.925, 14.965, 14.945, 14.995,
    15.075, 15.015, 15.095, 15.045, 15.005, 15.055, 15.085, 15.025, 15.065, 15.035, 15.025, 15.085, 15.005, 15.065, 15.045, 15.095, 15.015, 15.075, 15.035, 15.055, 15.055, 15.005, 15.035, 15.095, 15.075, 15.025, 15.065, 15.015, 15.085, 15.045, 15.085, 15.045, 15.015, 15.075, 15.025, 15.065, 15.005, 15.095, 15.055, 15.035,
    15.145, 15.195, 15.125, 15.175, 15.115, 15.165, 15.105, 15.185, 15.135, 15.155, 15.195, 15.155, 15.175, 15.115, 15.135, 15.185, 15.145, 15.105, 15.125, 15.165, 15.165, 15.125, 15.185, 15.105, 15.145, 15.115, 15.195, 15.135, 15.155, 15.175, 15.115, 15.175, 15.135, 15.155, 15.195, 15.105, 15.165, 15.125, 15.185, 15.145,
    15.275, 15.215, 15.295, 15.245, 15.205, 15.255, 15.285, 15.225, 15.265, 15.235, 15.225, 15.285, 15.205, 15.265, 15.245, 15.295, 15.215, 15.275, 15.235, 15.255, 15.255, 15.205, 15.235, 15.295, 15.275, 15.225, 15.265, 15.215, 15.285, 15.245, 15.285, 15.245, 15.215, 15.275, 15.225, 15.265, 15.205, 15.295, 15.255, 15.235,
    15.345, 15.395, 15.325, 15.375, 15.315, 15.365, 15.305, 15.385, 15.335, 15.355, 15.395, 15.355, 15.375, 15.315, 15.335, 15.385, 15.345, 15.305, 15.325, 15.365, 15.365, 15.325, 15.385, 15.305, 15.345, 15.315, 15.395, 15.335, 15.355, 15.375, 15.315, 15.375, 15.335, 15.355, 15.395, 15.305, 15.365, 15.325, 15.385, 15.345,
    15.435, 15.465, 15.405, 15.495, 15.455, 15.425, 15.475, 15.445, 15.485, 15.415, 15.455, 15.405, 15.485, 15.425, 15.465, 15.445, 15.495, 15.435, 15.475, 15.415, 15.495, 15.445, 15.415, 15.465, 15.405, 15.485, 15.435, 15.475, 15.425, 15.455, 15.405, 15.485, 15.455, 15.435, 15.415, 15.475, 15.425, 15.465, 15.445, 15.495,
    15.545, 15.595, 15.525, 15.575, 15.515, 15.565, 15.505, 15.585, 15.535, 15.555, 15.595, 15.555, 15.575, 15.515, 15.535, 15.585, 15.545, 15.505, 15.525, 15.565, 15.565, 15.525, 15.585, 15.505, 15.545, 15.515, 15.595, 15.535, 15.555, 15.575, 15.515, 15.575, 15.535, 15.555, 15.595, 15.505, 15.565, 15.525, 15.585, 15.545,
    15.635, 15.665, 15.605, 15.695, 15.655, 15.625, 15.675, 15.645, 15.685, 15.615, 15.655, 15.605, 15.685, 15.625, 15.665, 15.645, 15.695, 15.635, 15.675, 15.615, 15.695, 15.645, 15.615, 15.665, 15.605, 15.685, 15.635, 15.675, 15.625, 15.655, 15.605, 15.685, 15.655, 15.635, 15.615, 15.675, 15.625, 15.665, 15.645, 15.695,
    15.775, 15.715, 15.795, 15.745, 15.705, 15.755, 15.785, 15.725, 15.765, 15.735, 15.725, 15.785, 15.705, 15.765, 15.745, 15.795, 15.715, 15.775, 15.735, 15.755, 15.755, 15.705, 15.735, 15.795, 15.775, 15.725, 15.765, 15.715, 15.785, 15.745, 15.785, 15.745, 15.715, 15.775, 15.725, 15.765, 15.705, 15.795, 15.755, 15.735,
    15.835, 15.865, 15.805, 15.895, 15.855, 15.825, 15.875, 15.845, 15.885, 15.815, 15.855, 15.805, 15.885, 15.825, 15.865, 15.845, 15.895, 15.835, 15.875, 15.815, 15.895, 15.845, 15.815, 15.865, 15.805, 15.885, 15.835, 15.875, 15.825, 15.855, 15.805, 15.885, 15.855, 15.835, 15.815, 15.875, 15.825, 15.865, 15.845, 15.895,
    15.975, 15.915, 15.995, 15.945, 15.905, 15.955, 15.985, 15.925, 15.965, 15.935, 15.925, 15.985, 15.905, 15.965, 15.945, 15.995, 15.915, 15.975, 15.935, 15.955, 15.955, 15.905, 15.935, 15.995, 15.975, 15.925, 15.965, 15.915, 15.985, 15.945, 15.985, 15.945, 15.915, 15.975, 15.925, 15.965, 15.905, 15.995, 15.955, 15.935,
]
band2_k = [
    1.5, 0.9, 2.1, 1.2, 2.9, 0.75, 1.7, 1.35, 1.0, 2.5, 1.25, 0.65, 1.9, 1.45, 3.4, 0.85, 1.6, 1.1, 2.2, 0.8,
    1.1, 1.8, 1.4, 2.6, 0.85, 2.2, 1.2, 0.7, 1.6, 1.0, 3.2, 1.5, 0.95, 2.0, 1.3, 0.8, 2.4, 1.15, 1.75, 1.35,
    1.9, 1.2, 0.85, 2.4, 1.4, 1.0, 3.0, 1.6, 0.7, 1.75, 1.3, 2.1, 0.95, 3.7, 1.5, 1.1, 1.65, 0.8, 2.5, 1.25,
    1.5, 0.9, 2.1, 1.2, 2.9, 0.75, 1.7, 1.35, 1.0, 2.5, 1.25, 0.65, 1.9, 1.45, 3.4, 0.85, 1.6, 1.1, 2.2, 0.8,
    1.1, 1.8, 1.4, 2.6, 0.85, 2.2, 1.2, 0.7, 1.6, 1.0, 3.2, 1.5, 0.95, 2.0, 1.3, 0.8, 2.4, 1.15, 1.75, 1.35,
    1.9, 1.2, 0.85, 2.4, 1.4, 1.0, 3.0, 1.6, 0.7, 1.75, 1.3, 2.1, 0.95, 3.7, 1.5, 1.1, 1.65, 0.8, 2.5, 1.25,
    1.5, 0.9, 2.1, 1.2, 2.9, 0.75, 1.7, 1.35, 1.0, 2.5, 1.25, 0.65, 1.9, 1.45, 3.4, 0.85, 1.6, 1.1, 2.2, 0.8,
    1.1, 1.8, 1.4, 2.6, 0.85, 2.2, 1.2, 0.7, 1.6, 1.0, 3.2, 1.5, 0.95, 2.0, 1.3, 0.8, 2.4, 1.15, 1.75, 1.35,
    1.9, 1.2, 0.85, 2.4, 1.4, 1.0, 3.0, 1.6, 0.7, 1.75, 1.3, 2.1, 0.95, 3.7, 1.5, 1.1, 1.65, 0.8, 2.5, 1.25,
    1.5, 0.9, 2.1, 1.2, 2.9, 0.75, 1.7, 1.35, 1.0, 2.5, 1.25, 0.65, 1.9, 1.45, 3.4, 0.85, 1.6, 1.1, 2.2, 0.8,
    1.9, 1.2, 0.85, 2.4, 1.4, 1.0, 3.0, 1.6, 0.7, 1.75, 1.3, 2.1, 0.95, 3.7, 1.5, 1.1, 1.65, 0.8, 2.5, 1.25, 0.9, 2.0, 1.45, 3.2, 0.75, 1.85, 1.15, 1.35, 2.7, 0.85, 1.55, 2.2, 1.05, 0.6, 1.7, 1.4, 2.6, 1.2, 0.95, 2.0,
    1.5, 0.9, 2.1, 1.2, 2.9, 0.75, 1.7, 1.35, 1.0, 2.5, 1.25, 0.65, 1.9, 1.45, 3.4, 0.85, 1.6, 1.1, 2.2, 0.8, 1.3, 2.7, 0.95, 1.8, 1.55, 0.7, 1.15, 2.4, 1.4, 3.1, 0.9, 2.0, 1.05, 1.65, 0.6, 3.8, 1.2, 2.3, 0.55, 1.75,
    1.1, 1.8, 1.4, 2.6, 0.85, 2.2, 1.2, 0.7, 1.6, 1.0, 3.2, 1.5, 0.95, 2.0, 1.3, 0.8, 2.4, 1.15, 1.75, 1.35, 3.6, 0.9, 1.55, 2.1, 0.75, 1.25, 2.9, 1.05, 1.9, 1.45, 0.65, 1.7, 1.3, 2.3, 0.6, 3.3, 1.2, 1.85, 0.5, 1.0,
    1.9, 1.2, 0.85, 2.4, 1.4, 1.0, 3.0, 1.6, 0.7, 1.75, 1.3, 2.1, 0.95, 3.7, 1.5, 1.1, 1.65, 0.8, 2.5, 1.25, 0.9, 2.0, 1.45, 3.2, 0.75, 1.85, 1.15, 1.35, 2.7, 0.85, 1.55, 2.2, 1.05, 0.6, 1.7, 1.4, 2.6, 1.2, 0.95, 2.0,
    1.5, 0.9, 2.1, 1.2, 2.9, 0.75, 1.7, 1.35, 1.0, 2.5, 1.25, 0.65, 1.9, 1.45, 3.4, 0.85, 1.6, 1.1, 2.2, 0.8, 1.3, 2.7, 0.95, 1.8, 1.55, 0.7, 1.15, 2.4, 1.4, 3.1, 0.9, 2.0, 1.05, 1.65, 0.6, 3.8, 1.2, 2.3, 0.55, 1.75,
    1.1, 1.8, 1.4, 2.6, 0.85, 2.2, 1.2, 0.7, 1.6, 1.0, 3.2, 1.5, 0.95, 2.0, 1.3, 0.8, 2.4, 1.15, 1.75, 1.35, 3.6, 0.9, 1.55, 2.1, 0.75, 1.25, 2.9, 1.05, 1.9, 1.45, 0.65, 1.7, 1.3, 2.3, 0.6, 3.3, 1.2, 1.85, 0.5, 1.0,
    1.9, 1.2, 0.85, 2.4, 1.4, 1.0, 3.0, 1.6, 0.7, 1.75, 1.3, 2.1, 0.95, 3.7, 1.5, 1.1, 1.65, 0.8, 2.5, 1.25, 0.9, 2.0, 1.45, 3.2, 0.75, 1.85, 1.15, 1.35, 2.7, 0.85, 1.55, 2.2, 1.05, 0.6, 1.7, 1.4, 2.6, 1.2, 0.95, 2.0,
    1.5, 0.9, 2.1, 1.2, 2.9, 0.75, 1.7, 1.35, 1.0, 2.5, 1.25, 0.65, 1.9, 1.45, 3.4, 0.85, 1.6, 1.1, 2.2, 0.8, 1.3, 2.7, 0.95, 1.8, 1.55, 0.7, 1.15, 2.4, 1.4, 3.1, 0.9, 2.0, 1.05, 1.65, 0.6, 3.8, 1.2, 2.3, 0.55, 1.75,
    1.1, 1.8, 1.4, 2.6, 0.85, 2.2, 1.2, 0.7, 1.6, 1.0, 3.2, 1.5, 0.95, 2.0, 1.3, 0.8, 2.4, 1.15, 1.75, 1.35, 3.6, 0.9, 1.55, 2.1, 0.75, 1.25, 2.9, 1.05, 1.9, 1.45, 0.65, 1.7, 1.3, 2.3, 0.6, 3.3, 1.2, 1.85, 0.5, 1.0,
    1.9, 1.2, 0.85, 2.4, 1.4, 1.0, 3.0, 1.6, 0.7, 1.75, 1.3, 2.1, 0.95, 3.7, 1.5, 1.1, 1.65, 0.8, 2.5, 1.25, 0.9, 2.0, 1.45, 3.2, 0.75, 1.85, 1.15, 1.35, 2.7, 0.85, 1.55, 2.2, 1.05, 0.6, 1.7, 1.4, 2.6, 1.2, 0.95, 2.0,
    1.5, 0.9, 2.1, 1.2, 2.9, 0.75, 1.7, 1.35, 1.0, 2.5, 1.25, 0.65, 1.9, 1.45, 3.4, 0.85, 1.6, 1.1, 2.2, 0.8, 1.3, 2.7, 0.95, 1.8, 1.55, 0.7, 1.15, 2.4, 1.4, 3.1, 0.9, 2.0, 1.05, 1.65, 0.6, 3.8, 1.2, 2.3, 0.55, 1.75,
    1.1, 1.8, 1.4, 2.6, 0.85, 2.2, 1.2, 0.7, 1.6, 1.0, 3.2, 1.5, 0.95, 2.0, 1.3, 0.8, 2.4, 1.15, 1.75, 1.35, 3.6, 0.9, 1.55, 2.1, 0.75, 1.25, 2.9, 1.05, 1.9, 1.45, 0.65, 1.7, 1.3, 2.3, 0.6, 3.3, 1.2, 1.85, 0.5, 1.0,
    1.9, 1.2, 0.85, 2.4, 1.4, 1.0, 3.0, 1.6, 0.7, 1.75, 1.3, 2.1, 0.95, 3.7, 1.5, 1.1, 1.65, 0.8, 2.5, 1.25, 0.9, 2.0, 1.45, 3.2, 0.75, 1.85, 1.15, 1.35, 2.7, 0.85, 1.55, 2.2, 1.05, 0.6, 1.7, 1.4, 2.6, 1.2, 0.95, 2.0,
    1.5, 0.9, 2.1, 1.2, 2.9, 0.75, 1.7, 1.35, 1.0, 2.5, 1.25, 0.65, 1.9, 1.45, 3.4, 0.85, 1.6, 1.1, 2.2, 0.8, 1.3, 2.7, 0.95, 1.8, 1.55, 0.7, 1.15, 2.4, 1.4, 3.1, 0.9, 2.0, 1.05, 1.65, 0.6, 3.8, 1.2, 2.3, 0.55, 1.75,
]

# ===================== assemble =====================
scatter_pts = (koi_bright + koi_high + koi_edge + koi_low
               + list(zip(band_mag, band_k)) + list(zip(band2_mag, band2_k)))
df = pd.DataFrame(scatter_pts, columns=["mag", "K"])

sns.set_theme(style="ticks")
plt.rcParams["font.family"] = ["Liberation Sans", "DejaVu Sans"]
plt.rcParams["mathtext.fontset"] = "cm"
plt.rcParams.update({
    "xtick.direction": "in", "ytick.direction": "in",
    "xtick.top": True, "ytick.right": True,
    "xtick.major.size": 11, "ytick.major.size": 11,
    "ytick.minor.size": 6, "xtick.major.width": 1.0,
    "ytick.major.width": 1.0, "ytick.minor.width": 0.9,
    "xtick.color": "black", "ytick.color": "black",
    "axes.edgecolor": "black",
})

fig = plt.figure(figsize=(26.16, 12.09), dpi=100)
ax = fig.add_axes([0.0841, 0.1017, 0.8934, 0.8677])

# grey edge strip on the left of the page
fig.patches.append(Rectangle((0, 0), 8 / 2616, 1, transform=fig.transFigure,
                             facecolor="#c4c6bf", edgecolor="none"))

sns.scatterplot(data=df, x="mag", y="K", color="black", alpha=0.22, s=74,
                edgecolor="none", linewidth=0, ax=ax, zorder=2, legend=False)

lw = 4.8
dash = (0, (3.1, 3.3))
dot = (0, (0.45, 1.75))
curves = [
    (sophie_2, "#0000ff", "-"), (sophie_5, "#0000ff", dash), (sophie_10, "#0000ff", dot),
    (harps_2, "#ff0000", "-"), (harps_5, "#ff0000", dash), (harps_10, "#ff0000", dot),
]
for vals, col, ls in curves:
    sns.lineplot(x=line_mag, y=vals, color=col, linewidth=lw, linestyle=ls, ax=ax, zorder=3)

ax.set_yscale("log")
ax.set_xlim(12, 16)
ax.set_ylim(1e-2, 1e3)

ax.xaxis.set_major_locator(FixedLocator([12, 13, 14, 15, 16]))
ax.xaxis.set_major_formatter(FuncFormatter(lambda v, p: r"$%d$" % round(v)))
ax.yaxis.set_major_locator(LogLocator(base=10, numticks=12))
ax.yaxis.set_minor_locator(LogLocator(base=10, subs=np.arange(2, 10), numticks=12))
ax.yaxis.set_major_formatter(FuncFormatter(lambda v, p: r"$10^{%d}$" % round(np.log10(v))))
ax.yaxis.set_minor_formatter(NullFormatter())
ax.tick_params(axis="x", which="major", labelsize=38, pad=10)
ax.tick_params(axis="y", which="major", labelsize=38, pad=12)

for sp in ax.spines.values():
    sp.set_linewidth(2.2)
    sp.set_color("black")

ax.set_xlabel("Magnitude", fontsize=44, labelpad=0)
ax.set_ylabel("Expected RV semi-amplitude [m/s]", fontsize=40)
ax.yaxis.set_label_coords(-0.063, 0.474)

ax.text(0.036, 0.759, r"$\sim 5\%$ KOIs", transform=ax.transAxes, fontsize=77,
        color="#555555", family=["Liberation Serif", "DejaVu Serif"], va="baseline", zorder=4)

# legend: two columns with instrument headers
blank = Line2D([], [], linestyle="none")
handles = [blank]
labels = [" "]
for vals, col, ls in curves[:3]:
    handles.append(Line2D([], [], color=col, linewidth=lw, linestyle=ls))
labels += ["2km/s", "5km/s", "10km/s"]
handles.append(blank)
labels.append(" ")
for vals, col, ls in curves[3:]:
    handles.append(Line2D([], [], color=col, linewidth=lw, linestyle=ls))
labels += ["2km/s", "5km/s", "10km/s"]

leg = ax.legend(handles, labels, ncol=2, loc="lower right", bbox_to_anchor=(0.9885, 0.0219),
                borderaxespad=0, fontsize=36, handlelength=1.64, handletextpad=1.1,
                columnspacing=2.46, labelspacing=0.58, borderpad=0.35,
                frameon=True, fancybox=False, framealpha=1, edgecolor="black")
leg.get_frame().set_linewidth(2.2)
leg.set_zorder(5)

ax.text(0.7326, 0.2746, "SOPHIE", transform=ax.transAxes, fontsize=30,
        ha="center", va="center", zorder=10)
ax.text(0.9149, 0.2746, "HARPS", transform=ax.transAxes, fontsize=30,
        ha="center", va="center", zorder=10)

fig.savefig("out.png", dpi=100)
